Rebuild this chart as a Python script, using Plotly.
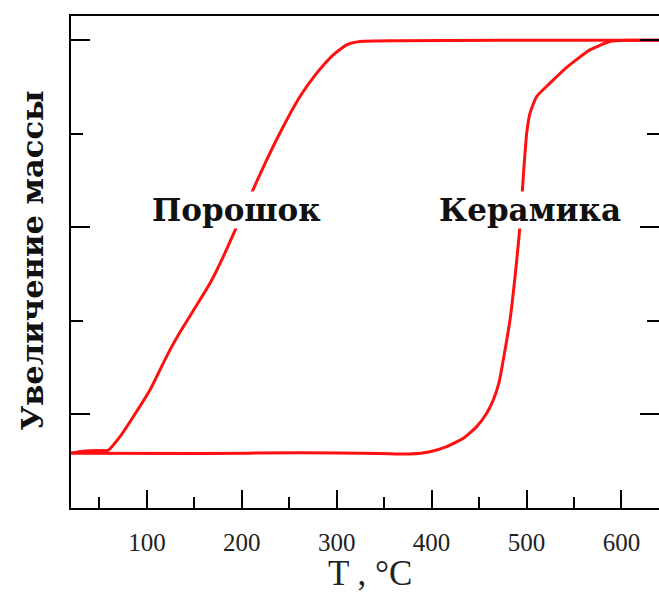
import plotly.graph_objects as go

# Temperature (°C) and relative mass gain for the powder sample
powder_T = [20, 34.8, 50.6, 59.0, 71.6, 85.6, 103.2, 112.0, 124.3, 133.1, 152.5,
            166.5, 180.5, 208.6, 226.2, 243.7, 261.3, 278.9, 296.4, 310.5, 324.5,
            366.7, 472.1, 577.4, 639.6]
powder_m = [0.588, 0.610, 0.615, 0.615, 0.763, 0.976, 1.262, 1.441, 1.690, 1.850, 2.170,
            2.403, 2.688, 3.329, 3.722, 4.078, 4.399, 4.649, 4.845, 4.952, 4.987,
            4.995, 5.000, 5.000, 5.000]

# Temperature (°C) and relative mass gain for the ceramic sample
ceramic_T = [20, 155.9, 261.3, 345.6, 377.2, 398.3, 415.9, 433.4, 447.5, 458.0, 465.0,
             471.0, 475.5, 482.6, 487.9, 493.1, 496.6, 500.2, 503.7, 510.7, 524.7,
             542.3, 566.8, 587.9, 605.5, 639.6]
ceramic_m = [0.585, 0.583, 0.590, 0.583, 0.578, 0.602, 0.656, 0.745, 0.870, 1.013, 1.155,
             1.340, 1.583, 2.011, 2.474, 3.009, 3.543, 4.008, 4.221, 4.399, 4.542,
             4.711, 4.898, 4.987, 5.000, 5.000]

x_major = [100, 200, 300, 400, 500, 600]
x_minor = [50, 150, 250, 350, 450, 550]
y_major = [1, 3, 5]
y_minor = [2, 4]

labels = [("Порошок", 194, 3.19), ("Керамика", 504, 3.19)]

RED = "#ff1010"
SERIF = "Liberation Serif"
BOLD_SERIF = "DejaVu Serif"

fig = go.Figure()
fig.add_trace(go.Scatter(x=powder_T, y=powder_m, mode="lines",
                         line=dict(color=RED, width=3, shape="spline", smoothing=0.5),
                         showlegend=False, hoverinfo="skip"))
fig.add_trace(go.Scatter(x=ceramic_T, y=ceramic_m, mode="lines", yaxis="y2",
                         line=dict(color=RED, width=3, shape="spline", smoothing=0.5),
                         showlegend=False, hoverinfo="skip"))

y_range = [0, 5.26]
common_y = dict(range=y_range, ticks="inside", tickvals=y_major, ticklen=19,
                tickwidth=2, tickcolor="black", showticklabels=False,
                showgrid=False, zeroline=False,
                minor=dict(tickvals=y_minor, ticks="inside", ticklen=12,
                           tickwidth=2, tickcolor="black", showgrid=False))

fig.update_layout(
    width=659, height=594,
    margin=dict(l=71, r=0, t=16, b=86),
    paper_bgcolor="white", plot_bgcolor="white",
    xaxis=dict(range=[20, 639.6], ticks="inside", tickvals=x_major, ticklen=18,
               tickwidth=2, tickcolor="black", showline=True, linewidth=2,
               linecolor="black", mirror=True, showgrid=False, zeroline=False,
               ticklabelstandoff=11,
               tickfont=dict(family=SERIF, size=25, color="#222"),
               minor=dict(tickvals=x_minor, ticks="inside", ticklen=11,
                          tickwidth=2, tickcolor="black", showgrid=False)),
    yaxis=dict(showline=True, linewidth=2, linecolor="black", **common_y),
    yaxis2=dict(overlaying="y", side="right", showline=False, **common_y),
    annotations=[
        dict(text="T , °C", xref="paper", yref="paper", x=0.5085, y=-0.134,
             xanchor="center", yanchor="middle", showarrow=False,
             font=dict(family=SERIF, size=35, color="#222")),
        dict(text="<b>Увеличение массы</b>", xref="paper", yref="paper",
             x=-0.067, y=0.502, xanchor="center", yanchor="middle",
             textangle=-90, showarrow=False,
             font=dict(family=BOLD_SERIF, size=30.5, color="#111")),
    ] + [
        dict(text=f"<b>{name}</b>", x=tx, y=ty, xref="x", yref="y",
             xanchor="center", yanchor="middle", showarrow=False,
             bgcolor="white", borderpad=0,
             font=dict(family=BOLD_SERIF, size=31, color="#111"))
        for name, tx, ty in labels
    ],
)

fig.write_html("out.html")
